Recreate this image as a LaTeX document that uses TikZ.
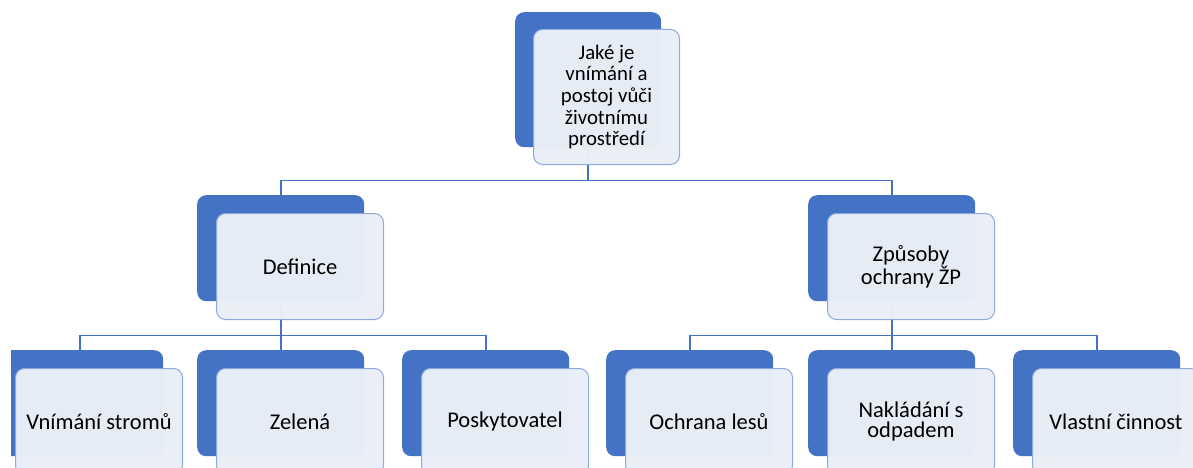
\documentclass[tikz,border=0pt]{standalone}
\usepackage{fontspec}
\setmainfont{Carlito}
\definecolor{boxblue}{HTML}{4472C4}
\definecolor{linkblue}{HTML}{4472C4}
\definecolor{frontfill}{HTML}{E9EEF7}
\definecolor{frontline}{HTML}{8EA9DB}
\begin{document}
\begin{tikzpicture}[x=1pt,y=-1pt,
  backbox/.style={fill=boxblue, rounded corners=9pt, inner sep=0pt,
    minimum width=167pt, minimum height=106pt, anchor=north west},
  frontbox/.style={fill=frontfill, fill opacity=0.985, text opacity=1,
    draw=frontline, line width=1pt, rounded corners=9pt, inner sep=0pt,
    minimum width=167pt, minimum height=106pt, anchor=north west,
    align=center, text=black, font=\fontsize{22.5}{20.5}\selectfont},
  topsize/.style={minimum width=146pt, minimum height=135pt},
  conn/.style={draw=linkblue, line width=1.8pt}]
\useasboundingbox (0,0) rectangle (1193,468);
\clip (11,0) rectangle (1193,468);

% solid blue back plates
\node[backbox, topsize] (root)  at (515,12)  {};
\node[backbox] (def)  at (197,195) {};
\node[backbox] (zp)   at (808,195) {};
\node[backbox] (a1)   at (-4,350)  {};
\node[backbox] (a2)   at (197,350) {};
\node[backbox] (a3)   at (402,350) {};
\node[backbox] (b1)   at (606,350) {};
\node[backbox] (b2)   at (808,350) {};
\node[backbox] (b3)   at (1013,350) {};

% connectors between the plates
\draw[conn] (root.south) -- ++(0,33) -| (def.north);
\draw[conn] (root.south) -- ++(0,33) -| (zp.north);
\draw[conn] (def.south) -- ++(0,34) -| (a1.north);
\draw[conn] (def.south) -- (a2.north);
\draw[conn] (def.south) -- ++(0,34) -| (a3.north);
\draw[conn] (zp.south) -- ++(0,34) -| (b1.north);
\draw[conn] (zp.south) -- (b2.north);
\draw[conn] (zp.south) -- ++(0,34) -| (b3.north);

% translucent text cards
\node[frontbox, topsize, font=\fontsize{20.8}{21.7}\selectfont] (rootT) at (533,29)
  {Jaké je\\vnímání a\\postoj vůči\\životnímu\\prostředí};
\node[frontbox] (defT) at (216,213) {Definice};
\node[frontbox] (zpT)  at (827,213) {Způsoby\\ochrany ŽP};
\node[frontbox] (a1T)  at (15,368)  {Vnímání stromů};
\node[frontbox] (a2T)  at (216,368) {Zelená};
\node[frontbox] (a3T)  at (421,368) {Poskytovatel};
\node[frontbox] (b1T)  at (625,368) {Ochrana lesů};
\node[frontbox] (b2T)  at (827,368) {Nakládání s\\odpadem};
\node[frontbox] (b3T)  at (1032,368) {Vlastní činnost};
\end{tikzpicture}
\end{document}
